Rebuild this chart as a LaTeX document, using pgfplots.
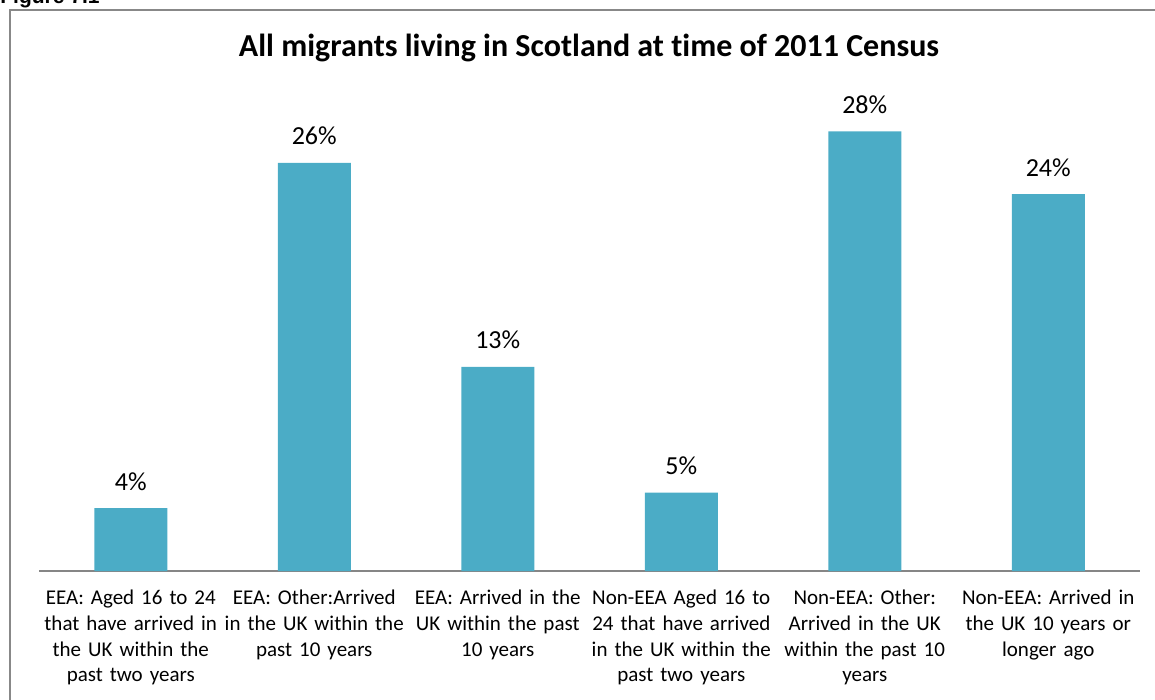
\documentclass[border=0pt]{standalone}
\usepackage{pgfplots}
\pgfplotsset{compat=1.18}
\usepackage{fontspec}
\setmainfont{Carlito}[Ligatures={NoCommon}]
\newfontfamily\arialfont{Liberation Sans}
\definecolor{barblue}{HTML}{4BACC6}
\definecolor{axisgray}{HTML}{868686}
\definecolor{bordergray}{HTML}{888888}
\begin{document}
\begin{tikzpicture}
\useasboundingbox (0,0) rectangle (577.5pt,-350pt);
\draw[bordergray, line width=0.75pt] (5pt,-5pt) rectangle (600pt,-370pt);
\node[anchor=base west, inner sep=0, font=\arialfont\bfseries\fontsize{10.5pt}{12pt}\selectfont] at (0pt,-2pt) {Figure 7.1};
\node[anchor=base, inner sep=0, font=\bfseries\fontsize{16pt}{18pt}\selectfont] at (294.5pt,-28.5pt) {All migrants living in Scotland at time of 2011 Census};
\begin{axis}[
  at={(19.5pt,-285.5pt)}, anchor=south west,
  scale only axis, width=550.5pt, height=235.5pt,
  ybar, bar width=36.5pt,
  xmin=-0.5, xmax=5.5, ymin=0, ymax=30,
  axis x line*=bottom, axis y line=none,
  x axis line style={-, axisgray, line width=0.6pt},
  major tick length=0pt,
  xtick={0,1,2,3,4,5},
  xticklabels={
    {EEA: Aged 16 to 24\\that have arrived in\\the UK within the\\past two years},
    {EEA: Other:Arrived\\in the UK within the\\past 10 years},
    {EEA: Arrived in the\\UK within the past\\10 years},
    {Non-EEA Aged 16 to\\24 that have arrived\\in the UK within the\\past two years},
    {Non-EEA: Other:\\Arrived in the UK\\within the past 10\\years},
    {Non-EEA: Arrived in\\the UK 10 years or\\longer ago}},
  xticklabel style={align=center, text width=91pt, inner sep=0pt, anchor=north, yshift=-7.65pt,
    font=\fontsize{10.5pt}{12.85pt}\selectfont, execute at begin node=\strut},
  /pgf/number format/assume math mode=true,
  nodes near coords={\pgfmathprintnumber{\pgfplotspointmeta}\%},
  every node near coord/.append style={anchor=base, inner sep=0pt, yshift=9pt,
    font=\fontsize{13pt}{15pt}\selectfont, text=black},
  clip=false,
]
\addplot[fill=barblue, draw=none] coordinates {(0,4) (1,26) (2,13) (3,5) (4,28) (5,24)};
\end{axis}
\end{tikzpicture}
\end{document}
